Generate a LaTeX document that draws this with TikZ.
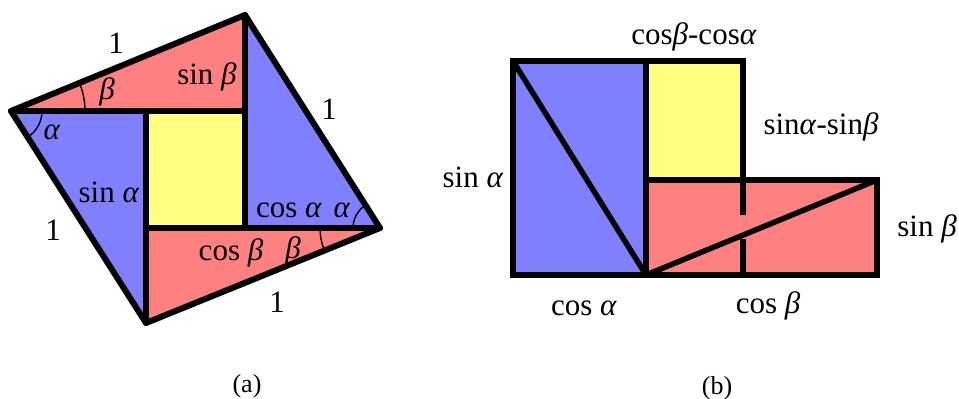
\documentclass[tikz,border=0pt]{standalone}
\usepackage{fontspec}
\setmainfont{Liberation Serif}
\definecolor{bluef}{HTML}{8080FF}
\definecolor{redf}{HTML}{FF8080}
\definecolor{yelf}{HTML}{FFFF80}
\begin{document}
\begin{tikzpicture}[x=1pt,y=-1pt,
  thick line/.style={line width=6pt,line join=round,line cap=round},
  thick line b/.style={line width=5.5pt,line join=miter,line cap=rect},
  anglearc/.style={line width=1.4pt},
  lbl/.style={inner sep=0pt,font=\fontsize{31}{36}\selectfont},
  captxt/.style={inner sep=0pt,font=\fontsize{26}{30}\selectfont}]
\useasboundingbox (0,0) rectangle (959,399);
% ---------- (a) ----------
\coordinate (L) at (11,111);
\coordinate (T) at (245,15);
\coordinate (R) at (380,228);
\coordinate (B) at (146,323);
\coordinate (P1) at (245,111);
\coordinate (P2) at (146,111);
\coordinate (P3) at (245,228);
\coordinate (P4) at (146,228);
\fill[redf] (L) -- (T) -- (P1) -- cycle;
\fill[redf] (R) -- (B) -- (P4) -- cycle;
\fill[bluef] (T) -- (R) -- (P3) -- cycle;
\fill[bluef] (L) -- (B) -- (P2) -- cycle;
\fill[yelf] (P2) -- (P1) -- (P3) -- (P4) -- cycle;
\draw[anglearc] (L) ++(0:31pt) arc[start angle=0,end angle=-57.5,radius=31pt];
\draw[anglearc] (L) ++(0:74pt) arc[start angle=0,end angle=22.3,radius=74pt];
\draw[anglearc] (R) ++(180:27pt) arc[start angle=180,end angle=122.4,radius=27pt];
\draw[anglearc] (R) ++(180:60pt) arc[start angle=180,end angle=202.1,radius=60pt];
\draw[thick line] (L) -- (T) -- (R) -- (B) -- cycle;
\draw[thick line] (L) -- (P1);
\draw[thick line] (T) -- (P3);
\draw[thick line] (R) -- (P4);
\draw[thick line] (B) -- (P2);
\node[lbl] (o1) at (116,43) {1};
\node[lbl] (o2) at (329,109) {1};
\node[lbl] (o3) at (53,230) {1};
\node[lbl] (o4) at (277,302) {1};
\node[lbl] (sb) at (207,77) {sin \textit{β}};
\node[lbl] (bt) at (107,92) {\textit{β}};
\node[lbl] (al) at (52,132) {\textit{α}};
\node[lbl] (sa) at (109,192) {sin \textit{α}};
\node[lbl] (ca) at (289,210) {cos \textit{α}};
\node[lbl] (ar) at (342,210) {\textit{α}};
\node[lbl] (cb) at (231,253) {cos \textit{β}};
\node[lbl] (bb) at (293,251) {\textit{β}};
\node[captxt] (capa) at (247,386) {(a)};
% ---------- (b) ----------
\coordinate (A) at (513,61);
\coordinate (D) at (646,61);
\coordinate (E) at (743,61);
\coordinate (F) at (646,180);
\coordinate (G) at (743,180);
\coordinate (H) at (877,180);
\coordinate (I) at (513,275);
\coordinate (J) at (646,275);
\coordinate (K) at (877,275);
\coordinate (M) at (743,275);
\coordinate (G1) at (743,215);
\coordinate (G2) at (743,239);
\fill[bluef] (A) -- (D) -- (J) -- (I) -- cycle;
\fill[yelf] (D) -- (E) -- (G) -- (F) -- cycle;
\fill[redf] (F) -- (H) -- (K) -- (J) -- cycle;
\draw[thick line b] (A) -- (E) -- (G) -- (H) -- (K) -- (I) -- cycle;
\draw[thick line b] (D) -- (J);
\draw[thick line b] (F) -- (H);
\draw[line width=5.5pt] (G) -- (G1);
\draw[line width=5.5pt] (G2) -- (M);
\draw[line width=5.5pt,line cap=round] (A) -- (J);
\draw[line width=5.5pt,line cap=round] (J) -- (H);
\node[lbl] (t1) at (694,37) {cos\textit{β}-cos\textit{α}};
\node[lbl] (t2) at (821,127) {sin\textit{α}-sin\textit{β}};
\node[lbl] (t3) at (473,177) {sin \textit{α}};
\node[lbl] (t4) at (927,229) {sin \textit{β}};
\node[lbl] (t5) at (584,308) {cos \textit{α}};
\node[lbl] (t6) at (768,306) {cos \textit{β}};
\node[captxt] (capb) at (717,388) {(b)};
\end{tikzpicture}
\end{document}
